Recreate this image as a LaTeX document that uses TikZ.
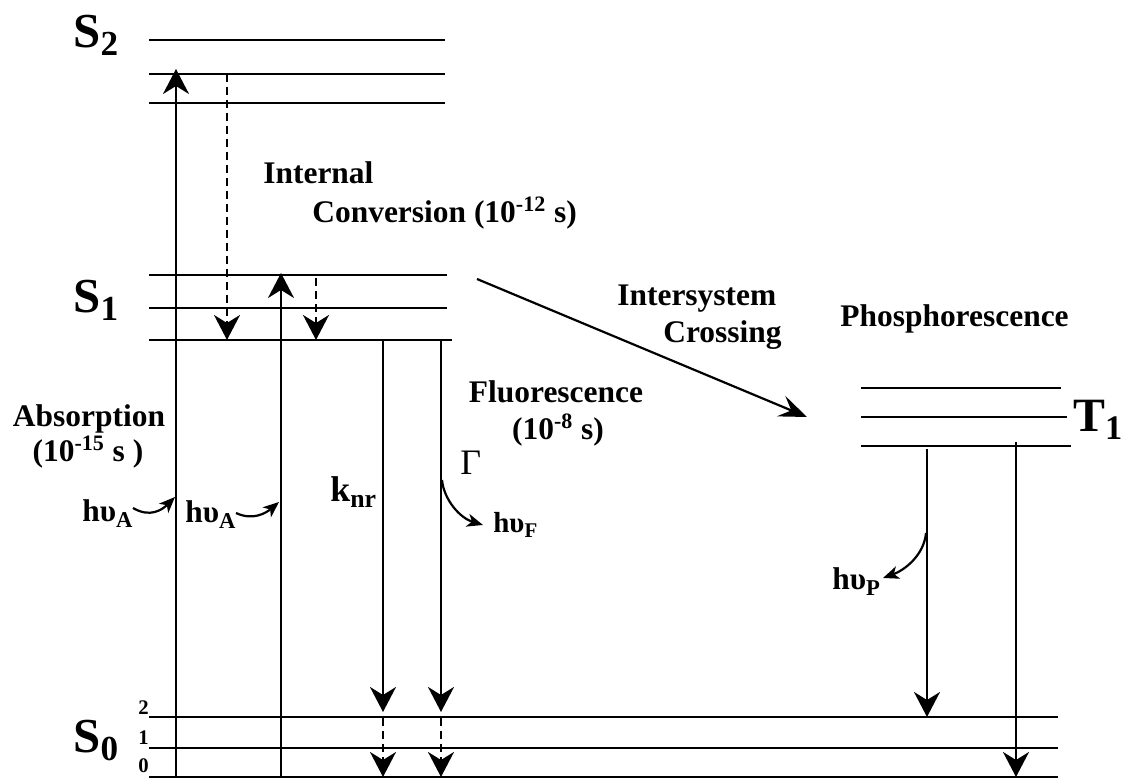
\documentclass[tikz,border=0pt]{standalone}
\usepackage{fontspec}
\usepackage{graphicx}
\setmainfont{Liberation Serif}
\usetikzlibrary{arrows.meta,calc}
\newcommand{\lowsub}[1]{\raisebox{-0.16em}{\scalebox{0.72}{#1}}}
\tikzset{
  level/.style={draw=black, line width=0.44mm},
  jump/.style={-{Stealth[length=5mm,width=5.2mm,inset=1.6mm]}, draw=black, line width=0.44mm},
  relax/.style={jump, dash pattern=on 1.6mm off 1mm},
  cross/.style={-{Stealth[length=5.6mm,width=4.4mm,inset=2.2mm]}, draw=black, line width=0.44mm},
  photon/.style={-{Stealth[length=3.2mm,width=2.6mm,inset=0.9mm]}, draw=black, line width=0.44mm},
  txt/.style={font=\fontsize{17.9}{21}\selectfont\bfseries, inner sep=0pt, anchor=base west},
  state/.style={font=\fontsize{27.8}{30}\selectfont\bfseries, inner sep=0pt, anchor=base west},
  vib/.style={font=\fontsize{11.8}{13}\selectfont\bfseries, inner sep=0pt, anchor=base east},
}
\begin{document}
\begin{tikzpicture}[x=0.2mm,y=-0.2mm]
\useasboundingbox (0,0) rectangle (1125,778);

% Energy levels ----------------------------------------------------------------
\coordinate (S2a) at (149,40);
\coordinate (S2b) at (149,74);
\coordinate (S2c) at (149,103);
\coordinate (S1a) at (149,275);
\coordinate (S1b) at (149,308);
\coordinate (S1c) at (149,340);
\coordinate (S0a) at (149,717);
\coordinate (S0b) at (149,748);
\coordinate (S0c) at (149,777);
\coordinate (T1a) at (861,388);
\coordinate (T1b) at (861,417);
\coordinate (T1c) at (861,446);

\draw[level] (S2a) -- ++(296,0);
\draw[level] (S2b) -- ++(296,0);
\draw[level] (S2c) -- ++(296,0);
\draw[level] (S1a) -- ++(298,0);
\draw[level] (S1b) -- ++(298,0);
\draw[level] (S1c) -- ++(303,0);
\draw[level] (S0a) -- ++(909,0);
\draw[level] (S0b) -- ++(909,0);
\draw[level] (S0c) -- ++(909,0);
\draw[level] (T1a) -- ++(200,0);
\draw[level] (T1b) -- ++(206,0);
\draw[level] (T1c) -- ++(210,0);

\node[state] (s2lab) at (73,48) {S\lowsub{2}};
\node[state] (s1lab) at (73,313) {S\lowsub{1}};
\node[state] (s0lab) at (73,753) {S\lowsub{0}};
\node[state, font=\fontsize{27.2}{30}\selectfont\bfseries] (t1lab) at (1073,432) {T\lowsub{1}};
\node[vib] (v2) at (149,715) {2};
\node[vib] (v1) at (149,745) {1};
\node[vib] (v0) at (149,773) {0};

% Transitions ------------------------------------------------------------------
\coordinate (absA) at (176,0);
\coordinate (icA) at (227,0);
\coordinate (absB) at (281,0);
\coordinate (icB) at (316,0);
\coordinate (nr) at (383,0);
\coordinate (fl) at (441,0);
\coordinate (phA) at (927,0);
\coordinate (phB) at (1016,0);

\draw[jump, shorten >=-1mm] (absA |- S0c) -- (absA |- S2b);
\draw[jump, shorten >=-0.4mm] (absB |- S0c) -- (absB |- S1a);
\draw[relax] (icA |- S2b) -- (icA |- S1c);
\draw[relax] ([yshift=-0.6mm]icB |- S1a) -- (icB |- S1c);

\draw[jump, shorten >=1mm] (nr |- S1c) -- (nr |- S0a);
\draw[relax, shorten <=0.3mm] (nr |- S0a) -- (nr |- S0c);
\draw[jump, shorten >=1mm] (fl |- S1c) -- (fl |- S0a);
\draw[relax, shorten <=0.3mm] (fl |- S0a) -- (fl |- S0c);

\draw[jump] ([yshift=-0.6mm]phA |- T1c) -- (phA |- S0a);
\draw[jump] ([yshift=0.8mm]phB |- T1c) -- (phB |- S0c);

% Intersystem crossing
\coordinate (iscA) at (477,279);
\coordinate (iscB) at (807,417);
\draw[cross] (iscA) -- (iscB);

% Labels -----------------------------------------------------------------------
\node[txt, anchor=base] (abs) at (89,427) {Absorption};
\node[txt, anchor=base] (absT) at (88,462) {(10\textsuperscript{-15} s )};
\node[txt] (ic) at (263,184) {Internal};
\node[txt] (icT) at (312,223) {Conversion (10\textsuperscript{-12} s)};
\node[txt] (isc) at (617,306) {Intersystem};
\node[txt] (iscT) at (663,343) {Crossing};
\node[txt] (phos) at (840,327) {Phosphorescence};
\node[txt, anchor=base] (fluo) at (556,403) {Fluorescence};
\node[txt, anchor=base] (fluoT) at (558,440) {(10\textsuperscript{-8} s)};

\node[txt] (hA1) at (82,522) {hυ\lowsub{A}};
\node[txt] (hA2) at (185,523) {hυ\lowsub{A}};
\node[txt, font=\fontsize{20.4}{23}\selectfont\bfseries] (knr) at (330,502) {k\lowsub{nr}};
\node[txt, font=\fontsize{20.4}{23}\selectfont] (gam) at (460,475) {Γ};
\node[txt, font=\fontsize{16.5}{19}\selectfont\bfseries] (hF) at (493,533) {hυ\lowsub{F}};
\node[txt] (hP) at (832,590) {hυ\lowsub{P}};

% Photons
\coordinate (pA1) at (133,508);
\coordinate (qA1) at (175,497);
\coordinate (pA2) at (236,513);
\coordinate (qA2) at (279,502);
\coordinate (pF) at (442,480);
\coordinate (qF) at (483,525);
\coordinate (pP) at (926,533);
\coordinate (qP) at (883,578);
\draw[photon] (pA1) .. controls (150,518) and (162,510) .. (qA1);
\draw[photon] (pA2) .. controls (253,521) and (266,513) .. (qA2);
\draw[photon] (pF) .. controls (444,500) and (460,518) .. (qF);
\draw[photon] (pP) .. controls (924,555) and (905,570) .. (qP);

\end{tikzpicture}
\end{document}
